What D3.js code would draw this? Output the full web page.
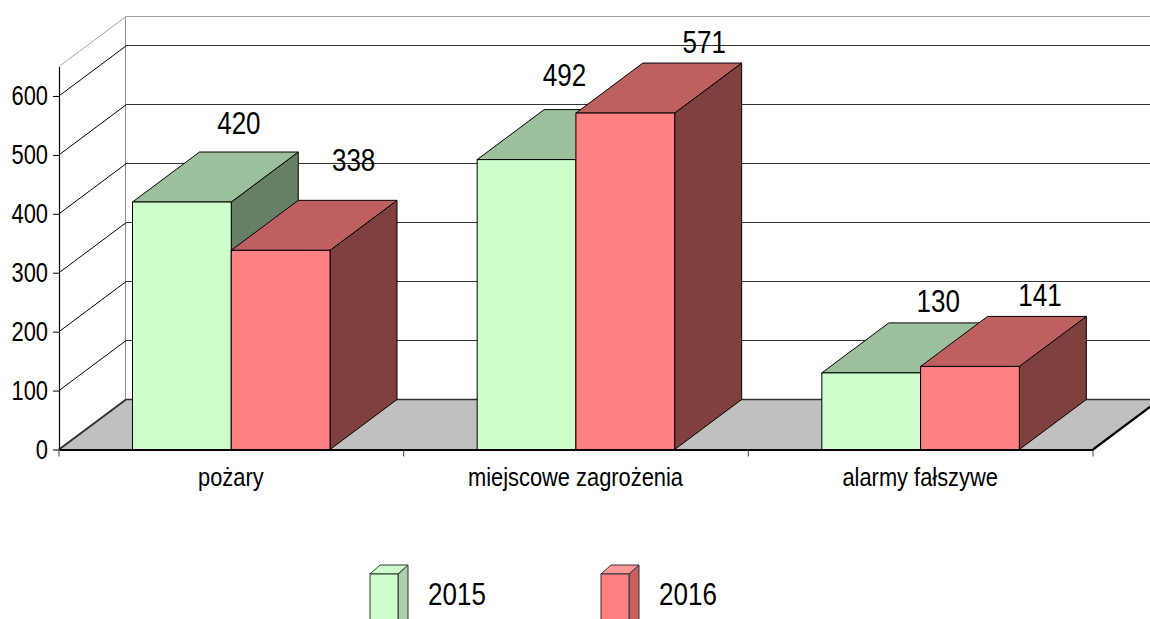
<!DOCTYPE html>
<html>
<head>
<meta charset="utf-8">
<script src="https://cdn.jsdelivr.net/npm/d3@7"></script>
<style>
    html, body { margin: 0; padding: 0; background: #fff; overflow: hidden; }
    text { font-family: "Liberation Sans", Arial, sans-serif; fill: #000; }
</style>
</head>
<body>
<div class="viz"></div>
<script>
const categories = ['pożary', 'miejscowe zagrożenia', 'alarmy fałszywe'];
const years = ['2015', '2016'];
const values2015 = [420, 492, 130];
const values2016 = [338, 571, 141];
const yTicks = [0, 100, 200, 300, 400, 500, 600];

const w = 1150;
const h = 619;
const depthX = 67;
const depthY = 50;

// the chart places its value labels unevenly, so they get their own nudge
const labelNudge2015 = [[57, -68.5], [38, -73.5], [67, -60.5]];
const labelNudge2016 = [[73, -79.5], [79, -60.5], [70, -60.5]];

const colors = {
    2015: { front: '#ccffcc', top: '#9cc09c', side: '#668066', edge: '#000', lTop: '#ccffcc', lSide: '#a9d0a9' },
    2016: { front: '#ff8080', top: '#bf6060', side: '#804040', edge: '#000', lTop: '#ff9999', lSide: '#c86060' }
};

const svg = d3.select('.viz').append('svg')
    .attr('width', w)
    .attr('height', h)
    .style('display', 'block');

const y = d3.scaleLinear().domain([0, 650]).range([449.5, 66.5]);
const x0 = d3.scaleBand().domain(categories).range([59, 1093]);
const x1 = d3.scaleBand().domain(years).range([73.5, 271]);

const poly = (pts) => pts.map(p => p.join(',')).join(' ');

// squeezed text, the original font is narrower than Arial
function label(g, str, px, py, size, anchor, sx) {
    return g.append('text')
        .attr('transform', `translate(${px},${py}) scale(${sx},1)`)
        .attr('text-anchor', anchor)
        .attr('font-size', size)
        .text(str);
}

const left = x0.range()[0];
const right = x0.range()[1];
const floorY = y(0);

// floor
svg.append('polygon')
    .attr('points', poly([[left, floorY], [right, floorY], [right + depthX, floorY - depthY], [left + depthX, floorY - depthY]]))
    .attr('fill', '#c0c0c0');
svg.append('line')
    .attr('x1', left + depthX).attr('x2', right + depthX)
    .attr('y1', floorY - depthY).attr('y2', floorY - depthY)
    .attr('stroke', '#333').attr('stroke-width', 1.5);

// walls and gridlines
svg.append('line')
    .attr('x1', left + depthX - 0.5).attr('x2', left + depthX - 0.5)
    .attr('y1', floorY - depthY).attr('y2', y(650) - depthY)
    .attr('stroke', '#8c8c8c');
svg.append('line')
    .attr('x1', left + depthX).attr('x2', right + depthX)
    .attr('y1', y(650) - depthY).attr('y2', y(650) - depthY)
    .attr('stroke', '#a6a6a6')
    .attr('shape-rendering', 'crispEdges');
svg.append('line')
    .attr('x1', left).attr('x2', left + depthX)
    .attr('y1', y(650)).attr('y2', y(650) - depthY)
    .attr('stroke', '#a6a6a6');

const gridTicks = yTicks.filter(d => d > 0);
svg.selectAll('.back-grid')
    .data(gridTicks)
    .enter()
    .append('line')
    .attr('class', 'back-grid')
    .attr('x1', left + depthX).attr('x2', right + depthX)
    .attr('y1', d => y(d) - depthY).attr('y2', d => y(d) - depthY)
    .attr('stroke', '#333')
    .attr('shape-rendering', 'crispEdges');
svg.selectAll('.side-grid')
    .data(gridTicks)
    .enter()
    .append('line')
    .attr('class', 'side-grid')
    .attr('x1', left).attr('x2', left + depthX)
    .attr('y1', d => y(d)).attr('y2', d => y(d) - depthY)
    .attr('stroke', '#000');
svg.append('line')
    .attr('x1', left).attr('x2', left + depthX)
    .attr('y1', floorY).attr('y2', floorY - depthY)
    .attr('stroke', '#333').attr('stroke-width', 2);
svg.append('line')
    .attr('x1', right).attr('x2', right + depthX)
    .attr('y1', floorY).attr('y2', floorY - depthY)
    .attr('stroke', '#000').attr('stroke-width', 2.2);

// bars
function drawBar(g, px, bw, top, c) {
    const base = y(0);
    g.append('polygon')
        .attr('points', poly([[px + bw, top], [px + bw + depthX, top - depthY], [px + bw + depthX, base - depthY], [px + bw, base]]))
        .attr('fill', c.side).attr('stroke', c.edge);
    g.append('polygon')
        .attr('points', poly([[px, top], [px + depthX, top - depthY], [px + bw + depthX, top - depthY], [px + bw, top]]))
        .attr('fill', c.top).attr('stroke', c.edge);
    g.append('rect')
        .attr('x', px).attr('y', top)
        .attr('width', bw).attr('height', base - top)
        .attr('fill', c.front).attr('stroke', c.edge);
}

const seriesValues = { 2015: values2015, 2016: values2016 };
const seriesNudge = { 2015: labelNudge2015, 2016: labelNudge2016 };
const bars = svg.append('g');
categories.forEach((cat, i) => {
    years.forEach(yr => {
        drawBar(bars, x0(cat) + x1(yr), x1.bandwidth(), y(seriesValues[yr][i]), colors[yr]);
    });
});

// value labels
categories.forEach((cat, i) => {
    years.forEach(yr => {
        const n = seriesNudge[yr][i];
        const v = seriesValues[yr][i];
        label(svg, v, x0(cat) + x1(yr) + x1.bandwidth() / 2 + n[0], y(v) + n[1], 31, 'middle', 0.84);
    });
});

// axes
const yAxis = svg.append('g')
    .attr('transform', `translate(${left},0)`)
    .call(d3.axisLeft(y).tickValues(yTicks).tickSizeInner(6).tickSizeOuter(0).tickFormat(''));
yAxis.select('.domain').attr('stroke', '#000').attr('stroke-width', 1.2);
yTicks.forEach(t => label(svg, t, left - 11, y(t) + 9.5, 27, 'end', 0.81));

const xAxis = svg.append('g')
    .attr('transform', `translate(0,${floorY})`)
    .call(d3.axisBottom(x0).tickSize(0).tickFormat(''));
xAxis.select('.domain').attr('stroke', '#000').attr('stroke-width', 2.2);
svg.selectAll('.cat-tick')
    .data(categories.map(c => x0(c)).concat([right]))
    .enter()
    .append('line')
    .attr('class', 'cat-tick')
    .attr('x1', d => d).attr('x2', d => d)
    .attr('y1', floorY).attr('y2', floorY + 7)
    .attr('stroke', '#444');
categories.forEach(c => {
    label(svg, c, x0(c) + x0.bandwidth() / 2 - 0.5, 486, 26.5, 'middle', 0.825);
});

// legend
const legendX = d3.scaleOrdinal().domain(years).range([370, 601]);
years.forEach(yr => {
    const lx = legendX(yr);
    const c = colors[yr];
    const g = svg.append('g');
    g.append('polygon')
        .attr('points', poly([[lx + 28, 574], [lx + 38, 565], [lx + 38, 625], [lx + 28, 634]]))
        .attr('fill', c.lSide).attr('stroke', '#333');
    g.append('polygon')
        .attr('points', poly([[lx, 574], [lx + 10, 565], [lx + 38, 565], [lx + 28, 574]]))
        .attr('fill', c.lTop).attr('stroke', '#333');
    g.append('rect')
        .attr('x', lx).attr('y', 574)
        .attr('width', 28).attr('height', 60)
        .attr('fill', c.front).attr('stroke', '#333');
    label(svg, yr, lx + 58, 605, 31, 'start', 0.84);
});
</script>
</body>
</html>
